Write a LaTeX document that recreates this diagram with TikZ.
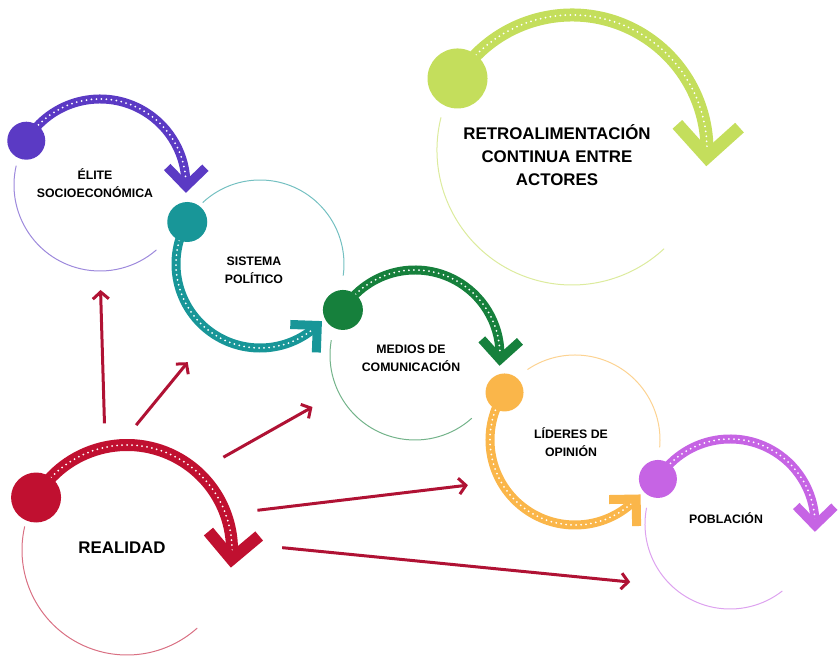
\documentclass[tikz,border=0pt]{standalone}
\usepackage{fontspec}
\setmainfont{Liberation Sans}
\usepackage{tikz}
\usepackage{xcolor}
\usetikzlibrary{arrows.meta,positioning,calc}

\newdimen\pxl
\pxl=0.3mm

\definecolor{elitecol}{RGB}{91,58,196}
\definecolor{sistcol}{RGB}{24,150,152}
\definecolor{medcol}{RGB}{22,128,60}
\definecolor{lidcol}{RGB}{250,182,74}
\definecolor{pobcol}{RGB}{198,100,228}
\definecolor{realcol}{RGB}{192,16,48}
\definecolor{retrocol}{RGB}{196,222,92}
\definecolor{raycol}{RGB}{176,18,52}

\tikzset{
  ring/.style={circle,inner sep=0pt,outer sep=0pt,minimum size=#1},
  rim/.style={draw=#1!60,line width=1\pxl},
  band/.style={draw=#1,line width=9\pxl,
    postaction={draw=white,line width=2\pxl,line cap=round,dash pattern=on 0pt off 5\pxl}},
  chev/.style={draw=#1,line width=9\pxl,line join=miter},
  ray/.style={draw=raycol,line width=3\pxl,-{Straight Barb[length=2.1mm,width=4.8mm]}},
  lbl/.style={font=\bfseries\fontsize{10.5}{15.5}\selectfont,align=center},
  biglbl/.style={font=\bfseries\fontsize{14.4}{19.6}\selectfont,align=center}
}

\begin{document}
\begin{tikzpicture}[x=\pxl,y=\pxl]
\useasboundingbox (0,0) rectangle (839,663);

% rings
\node[ring=172\pxl] (elite) at (100,478) {};
\node[ring=168\pxl] (sistema) at (260,399) {};
\node[ring=170\pxl] (medios) at (415,308) {};
\node[ring=170\pxl] (lideres) at (575,223) {};
\node[ring=170\pxl] (poblacion) at (730,139) {};
\node[ring=210\pxl] (realidad) at (127,113) {};
\node[ring=270\pxl] (retro) at (572,513) {};

% Elite socioeconomica
\draw[rim=elitecol] (elite.167) arc[start angle=167,end angle=311,radius=86\pxl];
\draw[band=elitecol] (elite.149) arc[start angle=149,end angle=-1,radius=86\pxl] coordinate (elitetip);
\draw[chev=elitecol] (elitetip) ++(44:27\pxl) -- (elitetip) -- ++(134:27\pxl);
\fill[elitecol] (elite.149) circle[radius=19\pxl];

% Sistema politico
\draw[rim=sistcol] (sistema.133) arc[start angle=133,end angle=-8,radius=84\pxl];
\draw[band=sistcol] (sistema.150) arc[start angle=150,end angle=313,radius=84\pxl] coordinate (sisttip);
\draw[chev=sistcol] (sisttip) ++(178:27\pxl) -- (sisttip) -- ++(268:27\pxl);
\fill[sistcol] (sistema.150) circle[radius=20\pxl];

% Medios de comunicacion
\draw[rim=medcol] (medios.170) arc[start angle=170,end angle=312,radius=85\pxl];
\draw[band=medcol] (medios.148) arc[start angle=148,end angle=-3,radius=85\pxl] coordinate (medtip);
\draw[chev=medcol] (medtip) ++(42:27\pxl) -- (medtip) -- ++(132:27\pxl);
\fill[medcol] (medios.148) circle[radius=20\pxl];

% Lideres de opinion
\draw[rim=lidcol] (lideres.124) arc[start angle=124,end angle=-5,radius=85\pxl];
\draw[band=lidcol] (lideres.146) arc[start angle=146,end angle=316,radius=85\pxl] coordinate (lidtip);
\draw[chev=lidcol] (lidtip) ++(181:27\pxl) -- (lidtip) -- ++(271:27\pxl);
\fill[lidcol] (lideres.146) circle[radius=19\pxl];

% Poblacion
\draw[rim=pobcol] (poblacion.169) arc[start angle=169,end angle=308,radius=85\pxl];
\draw[band=pobcol] (poblacion.148) arc[start angle=148,end angle=-1,radius=85\pxl] coordinate (pobtip);
\draw[chev=pobcol] (pobtip) ++(44:27\pxl) -- (pobtip) -- ++(134:27\pxl);
\fill[pobcol] (poblacion.148) circle[radius=19\pxl];

% Realidad
\draw[rim=realcol] (realidad.167) arc[start angle=167,end angle=312,radius=105\pxl];
\draw[band=realcol,line width=12\pxl] (realidad.150) arc[start angle=150,end angle=-5,radius=105\pxl] coordinate (realtip);
\draw[chev=realcol,line width=12\pxl] (realtip) ++(40:36\pxl) -- (realtip) -- ++(130:36\pxl);
\fill[realcol] (realidad.150) circle[radius=25\pxl];

% Retroalimentacion
\draw[rim=retrocol] (retro.166) arc[start angle=166,end angle=313,radius=135\pxl];
\draw[band=retrocol,line width=13\pxl] (retro.148) arc[start angle=148,end angle=-3,radius=135\pxl] coordinate (retrotip);
\draw[chev=retrocol,line width=13\pxl] (retrotip) ++(42:44\pxl) -- (retrotip) -- ++(132:44\pxl);
\fill[retrocol] (retro.148) circle[radius=30\pxl];

% labels
\node[lbl] (elitetxt) at (95,480) {ÉLITE\\SOCIOECONÓMICA};
\node[lbl] (sisttxt) at (254,393) {SISTEMA\\POLÍTICO};
\node[lbl] (medtxt) at (411,305) {MEDIOS DE\\COMUNICACIÓN};
\node[lbl] (lidtxt) at (571,221) {LÍDERES DE\\OPINIÓN};
\node[lbl] (pobtxt) at (726,145) {POBLACIÓN};
\node[biglbl] (realtxt) at (122,115) {REALIDAD};
\node[biglbl] (retrotxt) at (557,508) {RETROALIMENTACIÓN\\CONTINUA ENTRE\\ACTORES};

% influence of reality
\draw[ray,shorten <=7.2mm,shorten >=5.7mm] (realidad.102) -- (elite.270);
\draw[ray,shorten <=7.8mm,shorten >=11.4mm] (realidad.94) -- (sistema.235);
\draw[ray,shorten <=9mm,shorten >=9mm] (realidad.48) -- (medios.206);
\draw[ray,shorten <=9.6mm,shorten >=9.9mm] (realidad.20) -- (lideres.209);
\draw[ray,shorten <=15.2mm,shorten >=12.6mm] (realidad.4) -- (poblacion.227);
\end{tikzpicture}
\end{document}
